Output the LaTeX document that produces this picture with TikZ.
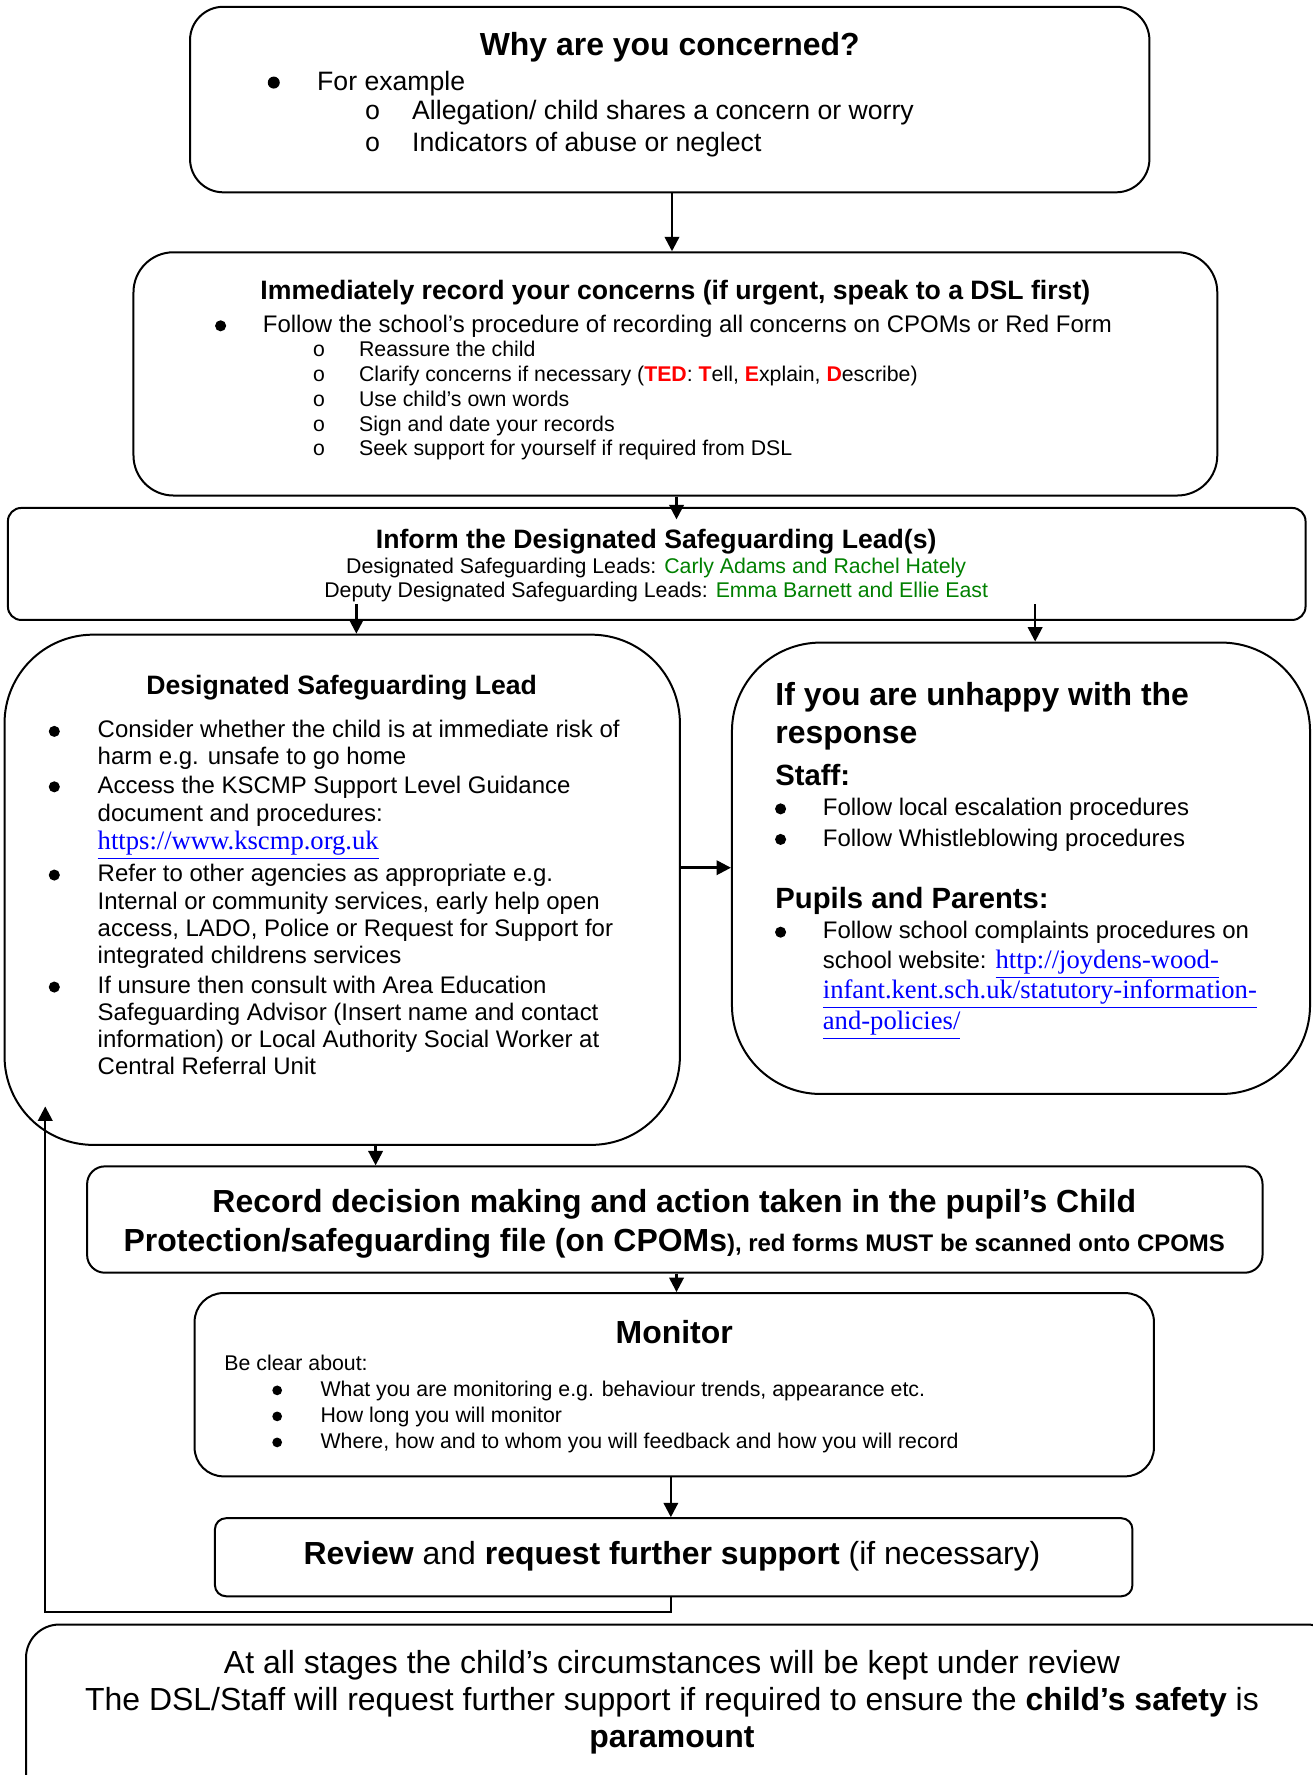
\documentclass[tikz,border=0pt]{standalone}
\usepackage{fontspec}
\setmainfont{Liberation Sans}
\newfontfamily\linkfont{Liberation Serif}
\newfontfamily\subfont{Liberation Mono}
\usetikzlibrary{fit,arrows.meta}
\definecolor{tedred}{RGB}{255,0,0}
\definecolor{namegreen}{RGB}{0,128,0}
\definecolor{linkblue}{RGB}{0,0,255}
\newcommand{\sz}[1]{\fontsize{#1}{#1}\selectfont}
\newcommand{\lnk}[1]{{\linkfont\sz{12}\color{linkblue}\underline{#1}}}
\newcommand{\ted}[1]{{\color{tedred}\bfseries #1}}
\newcommand{\nm}[1]{{\color{namegreen}#1}}

\begin{document}
\begin{tikzpicture}[x=0.51pt,y=-0.51pt,
    box/.style={draw,line width=0.9pt,inner sep=0pt},
    arr/.style={-{Triangle[length=6.5pt,width=6.5pt]},line width=1.1pt},
    dot/.style={circle,fill,inner sep=0pt,minimum size=#1},
    txt/.style={anchor=base west,inner sep=0pt},
    mid/.style={anchor=base,inner sep=0pt}]
  %\draw[very thin,lightgray] (0,0) grid[step=50] (1160,1569);
  \useasboundingbox (0,0) rectangle (1160,1569);

  % boxes
  \node[box,rounded corners=15pt,fit={(168,6) (1016,170)}] (why) {};
  \node[box,rounded corners=18pt,fit={(118,223) (1076,438)}] (rec) {};
  \node[box,rounded corners=6pt,fit={(7,449) (1154,548)}] (inf) {};
  \node[box,rounded corners=40pt,fit={(4,561) (601,1012)}] (dsl) {};
  \node[box,rounded corners=40pt,fit={(647,568) (1158,967)}] (unh) {};
  \node[box,rounded corners=8pt,fit={(77,1031) (1116,1125)}] (dec) {};
  \node[box,rounded corners=13pt,fit={(172,1143) (1020,1305)}] (mon) {};
  \node[box,rounded corners=5pt,fit={(190,1342) (1001,1411)}] (rev) {};
  \node[box,rounded corners=15pt,fit={(23,1436) (1185,1600)}] (rem) {};

  % why are you concerned
  \node[mid,font=\bfseries\sz{14.4}] (whyT) at (592,49) {Why are you concerned?};
  \node[dot=5.4pt] (whyB) at (242,73) {};
  \node[txt,font=\sz{12}] (why1) at (280,80) {For example};
  \foreach \y/\t [count=\i] in {106/{Allegation/ child shares a concern or worry},134/{Indicators of abuse or neglect}}{
    \node[txt,font=\subfont\sz{12}] (whyO\i) at (322,\y) {o};
    \node[txt,font=\sz{12}] (whyS\i) at (364,\y) {\t};
  }

  % record concerns
  \node[mid,font=\bfseries\sz{12}] (recT) at (597,265) {Immediately record your concerns (if urgent, speak to a DSL first)};
  \node[dot=5pt] (recB) at (195,288) {};
  \node[txt,font=\sz{10.8}] (rec1) at (232,294) {Follow the school’s procedure of recording all concerns on CPOMs or Red Form};
  \foreach \y/\t [count=\i] in {315/{Reassure the child},
      337/{Clarify concerns if necessary (\ted{TED}: \ted{T}ell, \ted{E}xplain, \ted{D}escribe)},
      359/{Use child’s own words},381/{Sign and date your records},
      403/{Seek support for yourself if required from DSL}}{
    \node[txt,font=\subfont\sz{9.6}] (recO\i) at (276,\y) {o};
    \node[txt,font=\sz{9.6}] (recS\i) at (317,\y) {\t};
  }

  % inform the DSL
  \node[mid,font=\bfseries\sz{12}] (infT) at (580,485) {Inform the Designated Safeguarding Lead(s)};
  \node[mid,font=\sz{9.6}] (inf1) at (580,507) {Designated Safeguarding Leads: \nm{Carly Adams and Rachel Hately}};
  \node[mid,font=\sz{9.6}] (inf2) at (580,528) {Deputy Designated Safeguarding Leads: \nm{Emma Barnett and Ellie East}};

  % designated safeguarding lead
  \node[mid,font=\bfseries\sz{12}] (dslT) at (302,614) {Designated Safeguarding Lead};
  \foreach \y [count=\i] in {652,701,779,878}
    \node[dot=5pt] (dslB\i) at (48,\y-5.5) {};
  \foreach \y/\t [count=\i] in {652/{Consider whether the child is at immediate risk of},
      676/{harm e.g. unsafe to go home},701/{Access the KSCMP Support Level Guidance},
      726/{document and procedures:},779/{Refer to other agencies as appropriate e.g.},
      804/{Internal or community services, early help open},
      828/{access, LADO, Police or Request for Support for},
      852/{integrated childrens services},878/{If unsure then consult with Area Education},
      902/{Safeguarding Advisor (Insert name and contact},
      926/{information) or Local Authority Social Worker at},950/{Central Referral Unit}}
    \node[txt,font=\sz{10.8}] (dsl\i) at (86,\y) {\t};
  \node[txt] (dslL) at (86,751) {\lnk{https://www.kscmp.org.uk}};

  % unhappy with the response
  \node[txt,font=\bfseries\sz{14.4}] (unhT1) at (685,624) {If you are unhappy with the};
  \node[txt,font=\bfseries\sz{14.4}] (unhT2) at (685,657) {response};
  \node[txt,font=\bfseries\sz{13.2}] (unhS) at (685,694) {Staff:};
  \node[txt,font=\bfseries\sz{13.2}] (unhP) at (685,803) {Pupils and Parents:};
  \foreach \y [count=\i] in {721,748,830}
    \node[dot=5pt] (unhB\i) at (690,\y-6) {};
  \foreach \y/\t [count=\i] in {721/{Follow local escalation procedures},748/{Follow Whistleblowing procedures},
      830/{Follow school complaints procedures on}}
    \node[txt,font=\sz{10.8}] (unh\i) at (727,\y) {\t};
  \node[txt,font=\sz{10.8}] (unhL1) at (727,856) {school website: \lnk{http://joydens-wood-}};
  \node[txt] (unhL2) at (727,883) {\lnk{infant.kent.sch.uk/statutory-information-}};
  \node[txt] (unhL3) at (727,910) {\lnk{and-policies/}};

  % record decision
  \node[mid,font=\bfseries\sz{14.4}] (dec1) at (596,1072) {Record decision making and action taken in the pupil’s Child};
  \node[mid,font=\bfseries\sz{14.4}] (dec2) at (596,1106) {Protection/safeguarding file (on CPOMs{\sz{10.8}), red forms MUST be scanned onto CPOMS}};

  % monitor
  \node[mid,font=\bfseries\sz{14.4}] (monT) at (596,1188) {Monitor};
  \node[txt,font=\sz{9.6}] (mon0) at (198,1211) {Be clear about:};
  \foreach \y/\t [count=\i] in {1234/{What you are monitoring e.g. behaviour trends, appearance etc.},
      1257/{How long you will monitor},1280/{Where, how and to whom you will feedback and how you will record}}{
    \node[dot=4.4pt] (monB\i) at (245,\y-5) {};
    \node[txt,font=\sz{9.6}] (mon\i) at (283,\y) {\t};
  }

  % review
  \node[mid,font=\sz{14.4}] (revT) at (594,1383) {\textbf{Review} and \textbf{request further support} (if necessary)};

  % keep under review
  \node[mid,font=\sz{14.4}] (rem1) at (594,1479) {At all stages the child’s circumstances will be kept under review};
  \node[mid,font=\sz{14.4}] (rem2) at (594,1512) {The DSL/Staff will request further support if required to ensure the \textbf{child’s safety} is};
  \node[mid,font=\bfseries\sz{14.4}] (rem3) at (594,1545) {paramount};

  % connectors
  \coordinate (s1) at (315,534);
  \coordinate (s2) at (915,534);
  \coordinate (fb) at (40,978);
  \draw[arr] (why.south -| 594,0) -- (rec.north -| 594,0);
  \draw[arr] (rec.south -| 598,0) -- ([yshift=-5.6pt]inf.north -| 598,0);
  \draw[arr] (s1) -- (s1 |- dsl.north);
  \draw[arr] (s2) -- (s2 |- unh.north);
  \draw[arr] (dsl.east |- 0,767) -- (unh.west |- 0,767);
  \draw[arr] (dsl.south -| 332,0) -- (dec.north -| 332,0);
  \draw[arr] (dec.south -| 598,0) -- (mon.north -| 598,0);
  \draw[arr] (mon.south -| 593,0) -- (rev.north -| 593,0);
  \draw[arr] (rev.south -| 593,0) -- (593,1425) -| (fb);
\end{tikzpicture}
\end{document}
